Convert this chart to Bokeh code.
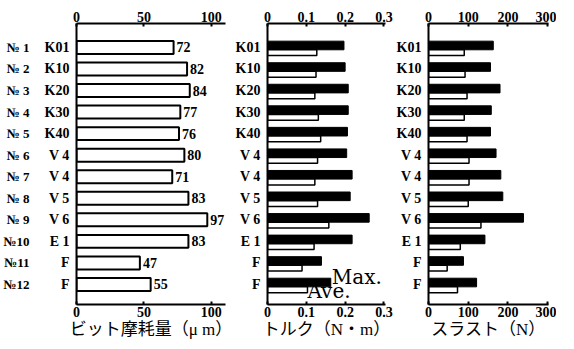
from bokeh.plotting import figure
from bokeh.layouts import row
from bokeh.models import Range1d, LinearAxis, FixedTicker
from bokeh.core.properties import value
from bokeh.embed import file_html
from bokeh.resources import INLINE

# ---- data ----
rows = list(range(1, 13))
nos = ["№ 1", "№ 2", "№ 3", "№ 4", "№ 5", "№ 6", "№ 7", "№ 8", "№ 9", "№10", "№11", "№12"]
materials = ["K01", "K10", "K20", "K30", "K40", "V 4", "V 4", "V 5", "V 6", "E 1", "F", "F"]
wear = [72, 82, 84, 77, 76, 80, 71, 83, 97, 83, 47, 55]
torque_max = [0.197, 0.200, 0.208, 0.208, 0.206, 0.204, 0.218, 0.213, 0.262, 0.218, 0.139, 0.163]
torque_ave = [0.127, 0.125, 0.122, 0.131, 0.137, 0.129, 0.122, 0.129, 0.158, 0.120, 0.089, 0.103]
thrust_max = [163, 156, 180, 158, 156, 170, 182, 187, 239, 142, 88, 121]
thrust_ave = [90, 92, 97, 90, 97, 102, 102, 100, 132, 80, 47, 73]
wear_ticks = [0, 50, 100]
torque_ticks = [0, 0.1, 0.2, 0.3]
thrust_ticks = [0, 100, 200, 300]
titles = ["ビット摩耗量（μ m）", "トルク（N・m）", "スラスト（N）"]

SERIF = "Liberation Serif"
TITLE_FONT = "Liberation Serif, Noto Sans CJK JP"
H = 341


def style_x(ax, ticks, overrides):
    ax.ticker = FixedTicker(ticks=ticks)
    ax.major_tick_in = 3
    ax.major_tick_out = 0
    ax.minor_tick_line_color = None
    ax.axis_line_width = 2
    ax.axis_line_color = "black"
    ax.major_tick_line_width = 2
    ax.major_label_standoff = 2
    ax.major_label_text_font = SERIF
    ax.major_label_text_font_style = "bold"
    ax.major_label_text_font_size = "14px"
    ax.major_label_text_color = "black"
    if overrides:
        ax.major_label_overrides = overrides


def panel(width, bl, br, xmax, ticks, title, overrides=None):
    p = figure(width=width, height=H, output_backend="svg", toolbar_location=None,
               x_range=Range1d(0, xmax), y_range=Range1d(12.93, -0.11),
               min_border_left=bl, min_border_right=br, min_border_top=23,
               min_border_bottom=37, x_axis_location=None, y_axis_location=None)
    p.outline_line_color = None
    p.grid.visible = False
    p.background_fill_color = "white"
    p.border_fill_color = "white"
    bottom = LinearAxis()
    style_x(bottom, ticks, overrides)
    bottom.axis_label = title
    bottom.axis_label_text_font = TITLE_FONT
    bottom.axis_label_text_font_style = "normal"
    bottom.axis_label_text_font_size = "17px"
    bottom.axis_label_standoff = 0
    bottom.axis_label_text_color = "black"
    p.add_layout(bottom, "below")
    top = LinearAxis()
    style_x(top, ticks, overrides)
    p.add_layout(top, "above")
    ya = LinearAxis(ticker=FixedTicker(ticks=rows),
                    major_label_overrides={r: m for r, m in zip(rows, materials)})
    ya.major_tick_line_color = None
    ya.minor_tick_line_color = None
    ya.axis_line_width = 2
    ya.axis_line_color = "black"
    ya.major_label_standoff = 1
    ya.major_label_text_font = SERIF
    ya.major_label_text_font_style = "bold"
    ya.major_label_text_font_size = "14px"
    ya.major_label_text_color = "black"
    p.add_layout(ya, "left")
    return p


# ---- panel 1: wear ----
p1 = panel(232, 68, 7, 110.5, wear_ticks, titles[0])
nax = LinearAxis(ticker=FixedTicker(ticks=rows),
                 major_label_overrides={r: n for r, n in zip(rows, nos)})
nax.axis_line_color = None
nax.major_tick_line_color = None
nax.minor_tick_line_color = None
nax.major_label_standoff = 6
nax.major_label_text_font = SERIF
nax.major_label_text_font_style = "bold"
nax.major_label_text_font_size = "13px"
nax.major_label_text_color = "black"
p1.add_layout(nax, "left")
p1.hbar(y=rows, left=0, right=wear, height=0.6, fill_color="white",
        line_color="black", line_width=2)
p1.text(x=wear, y=rows, text=[str(v) for v in wear], x_offset=3,
        text_baseline="middle", text_align="left", text_font=value(SERIF),
        text_font_style="bold", text_font_size="14px", text_color="black")

# ---- panel 2: torque ----
p2 = panel(161, 26, 8, 0.304, torque_ticks, titles[1], overrides={0: "0"})
ymax = [r - 0.09 for r in rows]
yave = [r + 0.245 for r in rows]
p2.hbar(y=ymax, left=0, right=torque_max, height=0.4, fill_color="black",
        line_color="black")
p2.hbar(y=yave, left=0, right=torque_ave, height=0.27, fill_color="white",
        line_color="black", line_width=1.5)
p2.text(x=[torque_max[-1]], y=[ymax[-1]], text=["Max."], x_offset=1, y_offset=-6,
        text_baseline="middle", text_font=value("DejaVu Serif"),
        text_font_size="20px", text_color="black")
p2.text(x=[torque_ave[-1]], y=[yave[-1]], text=["Ave."], x_offset=0, y_offset=1,
        text_baseline="middle", text_font=value("DejaVu Serif"),
        text_font_size="20px", text_color="black")

# ---- panel 3: thrust ----
p3 = panel(163, 26, 8, 302, thrust_ticks, titles[2])
p3.hbar(y=ymax, left=0, right=thrust_max, height=0.4, fill_color="black",
        line_color="black")
p3.hbar(y=yave, left=0, right=thrust_ave, height=0.27, fill_color="white",
        line_color="black", line_width=1.5)

layout = row(p1, p2, p3)
open("out.html", "w").write(file_html(layout, INLINE))
